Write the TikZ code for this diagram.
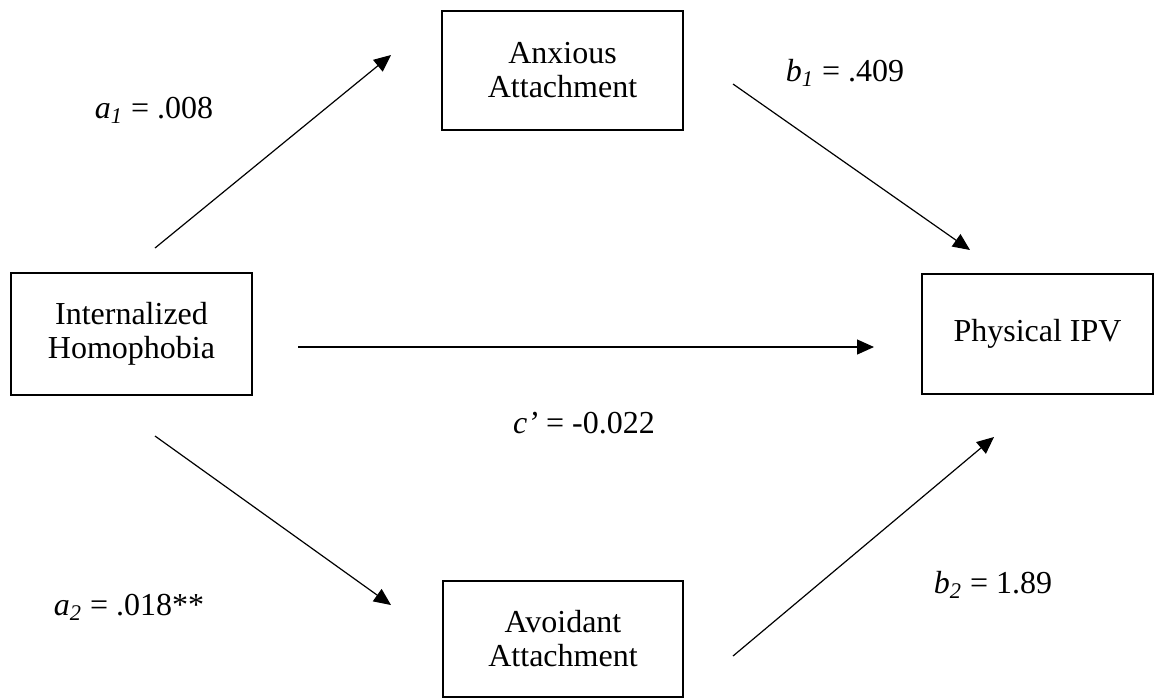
\documentclass[tikz,border=0pt]{standalone}
\usepackage{fontspec}
\setmainfont{Liberation Serif}
\usetikzlibrary{arrows.meta}
\begin{document}
\begin{tikzpicture}[x=0.5pt,y=-0.5pt,
  box/.style={draw=black,line width=1pt,rectangle,align=center,inner sep=0pt,
    font=\fontsize{16}{17}\selectfont},
  lbl/.style={font=\fontsize{16}{17}\selectfont,inner sep=0pt},
  arr/.style={line width=0.6pt,-{Triangle[length=8.5pt,width=7.5pt]}}]
\useasboundingbox (0,0) rectangle (1155,698);
\node[box,minimum width=120.5pt,minimum height=59.5pt] (anx) at (562.5,70.5) {Anxious\\Attachment};
\node[box,minimum width=120pt,minimum height=58pt] (avo) at (563,639) {Avoidant\\Attachment};
\node[box,minimum width=120.5pt,minimum height=61pt] (ih) at (131.5,334) {Internalized\\Homophobia};
\node[box,minimum width=115.5pt,minimum height=60pt] (ipv) at (1037.5,334) {Physical IPV};
\coordinate (a1s) at (155,248);
\coordinate (a1e) at (391,55);
\coordinate (b1s) at (733,84);
\coordinate (b1e) at (970,250);
\coordinate (cs) at (298,347);
\coordinate (ce) at (874,347);
\coordinate (a2s) at (155,436);
\coordinate (a2e) at (391,605);
\coordinate (b2s) at (733,656);
\coordinate (b2e) at (994,437);
\draw[arr] (a1s) -- (a1e);
\draw[arr] (b1s) -- (b1e);
\draw[arr] (cs) -- (ce);
\draw[arr] (a2s) -- (a2e);
\draw[arr] (b2s) -- (b2e);
\node[lbl] (la1) at (154,110) {\textit{a}\textsubscript{\textit{1}} = .008};
\node[lbl] (lb1) at (845,73) {\textit{b}\textsubscript{\textit{1}} = .409};
\node[lbl] (lc) at (584,423) {\textit{c’} = -0.022};
\node[lbl] (la2) at (129,607) {\textit{a}\textsubscript{\textit{2}} = .018**};
\node[lbl] (lb2) at (993,585) {\textit{b}\textsubscript{\textit{2}} = 1.89};
\end{tikzpicture}
\end{document}
